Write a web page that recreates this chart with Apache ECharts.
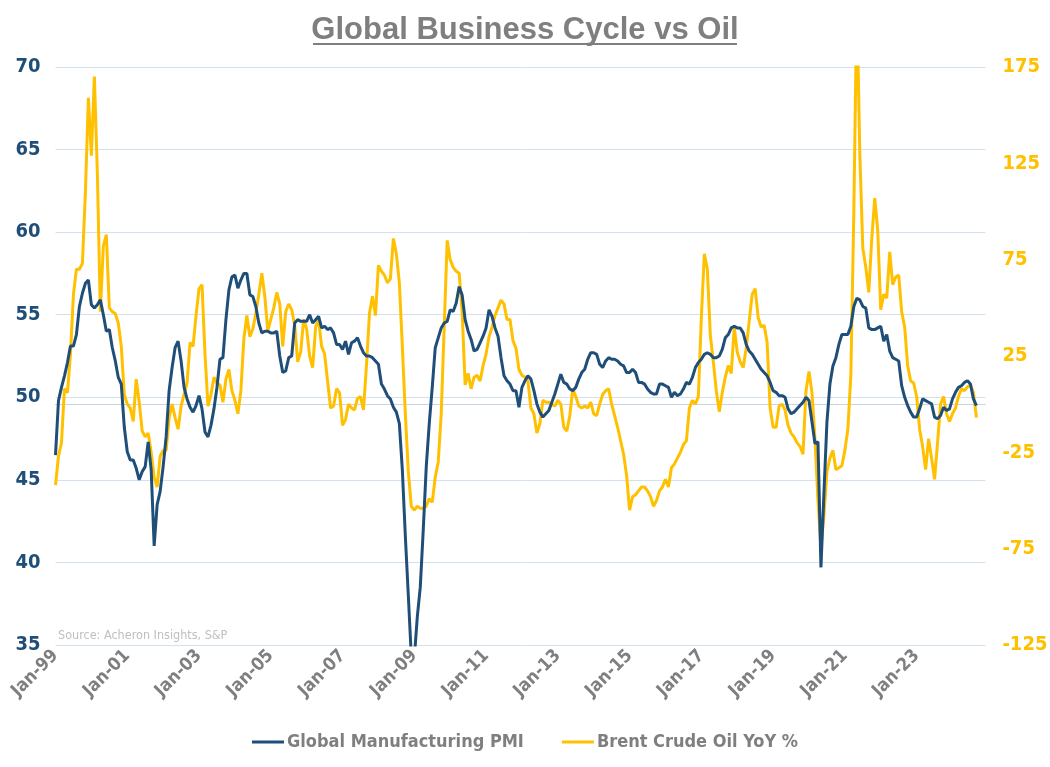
<!DOCTYPE html>
<html>
<head>
<meta charset="utf-8">
<script src="https://cdn.jsdelivr.net/npm/echarts@6/dist/echarts.min.js"></script>
<style>html,body{margin:0;padding:0;background:#fff;}#c{width:1050px;height:767px;}</style>
</head>
<body>
<div id="c"></div>
<script>
// Monthly data, Jan-99 .. Sep-24 (309 points), plus 3 empty months to Dec-24
var pmi = [
46.5,49.8,50.6,51.3,52.1,53.1,53.1,53.8,55.5,56.3,
56.9,57.1,55.6,55.4,55.6,55.9,55.0,54.0,54.1,53.0,
52.2,51.2,50.8,48.2,46.7,46.2,46.2,45.7,45.0,45.5,
45.8,47.3,45.6,41.0,43.5,44.3,45.8,47.6,50.4,51.8,
53.0,53.4,52.2,50.6,49.9,49.4,49.1,49.5,50.1,49.3,
47.9,47.6,48.3,49.3,50.6,52.3,52.4,54.7,56.5,57.3,
57.4,56.6,57.1,57.5,57.5,56.2,56.1,55.5,54.5,53.9,
54.0,54.0,53.9,53.9,54.0,52.5,51.5,51.6,52.4,52.5,
54.5,54.7,54.6,54.6,54.6,55.0,54.5,54.7,54.9,54.2,
54.3,54.1,54.2,53.9,53.2,53.2,52.9,53.4,52.6,53.3,
53.4,53.6,53.1,52.7,52.5,52.5,52.4,52.2,52.0,50.8,
50.5,50.1,49.9,49.4,49.1,48.4,45.6,41.6,38.0,34.3,
34.2,36.7,38.5,42.0,45.8,48.4,50.6,53.0,53.6,54.2,
54.5,54.6,55.3,55.2,55.7,56.7,56.2,54.7,54.0,53.5,
52.8,52.9,53.3,53.7,54.2,55.3,54.9,54.2,53.7,52.4,
51.3,51.0,50.8,50.4,50.4,49.4,50.6,51.0,51.3,51.1,
50.4,49.6,49.1,48.8,49.0,49.2,49.7,50.2,50.8,51.4,
50.9,50.8,50.5,50.4,50.6,51.1,51.5,51.7,52.3,52.7,
52.7,52.6,52.0,51.8,52.2,52.4,52.3,52.3,52.2,52.0,
51.9,51.5,51.5,51.7,51.5,50.9,50.9,50.8,50.5,50.3,
50.2,50.2,50.8,50.8,50.7,50.6,50.0,50.3,50.1,50.2,
50.5,50.9,50.8,51.2,51.8,52.1,52.3,52.6,52.7,52.6,
52.4,52.4,52.5,52.9,53.6,53.8,54.2,54.3,54.2,54.2,
53.9,53.2,52.8,52.6,52.3,52.0,51.7,51.5,51.3,50.9,
50.4,50.3,50.1,50.1,50.0,49.3,49.0,49.1,49.3,49.5,
49.7,50.0,49.8,48.5,47.2,47.3,39.7,44.2,48.5,50.8,
51.9,52.4,53.2,53.8,53.8,53.8,54.3,55.5,56.0,55.9,
55.5,55.4,54.2,54.1,54.1,54.2,54.3,53.4,53.8,52.8,
52.4,52.3,52.2,50.7,50.0,49.5,49.1,48.8,48.8,49.3,
49.9,49.8,49.7,49.6,48.8,48.7,48.9,49.4,49.2,49.3,
49.9,50.3,50.6,50.7,50.9,51.0,50.8,49.9,49.5
];
var oil = [
-42,-27,-20,8,6,26,57,70,70,73,
110,159,129,170,120,48,82,88,50,48,
47,42,30,5,0,-2,-9,13,1,-14,
-17,-15,-25,-38,-43,-27,-24,-24,-7,0,
-7,-13,-1,5,11,32,30,46,60,62,
26,-1,5,14,11,10,1,13,18,7,
2,-5,7,34,46,35,39,47,57,68,
56,38,44,50,58,52,30,48,52,49,
41,22,27,44,39,25,19,40,44,30,
26,12,-2,-1,8,6,-11,-8,0,-2,
-3,3,4,-3,20,47,56,46,72,69,
67,63,65,86,78,63,30,-5,-35,-53,
-55,-53,-54,-54,-53,-49,-51,-38,-30,-5,
40,85,75,71,69,68,48,10,16,8,
14,15,12,20,26,35,40,46,50,54,
52,44,44,33,29,18,15,14,12,-2,
-5,-15,-10,2,1,1,0,-1,2,0,
-12,-14,-6,8,4,-1,-2,-1,-2,1,
-5,-6,0,5,7,8,0,-6,-12,-19,
-26,-37,-55,-48,-47,-45,-43,-43,-45,-48,
-53,-50,-45,-43,-39,-43,-33,-31,-28,-25,
-21,-19,-2,2,0,4,45,78,70,36,
22,7,-4,6,14,20,16,40,27,22,
19,29,43,57,60,45,40,41,32,-2,
-12,-12,-1,0,-3,-11,-15,-17,-20,-22,
-26,7,17,6,-18,-50,-74,-58,-35,-28,
-24,-34,-33,-32,-24,-13,15,100,210,130,
81,71,58,86,107,90,49,57,55,79,
62,66,67,48,40,20,12,11,4,-13,
-22,-34,-18,-28,-39,-20,0,4,-5,-9,
-5,-2,4,8,7,9,10,6,-7
];
var monthNames = ['Jan','Feb','Mar','Apr','May','Jun','Jul','Aug','Sep','Oct','Nov','Dec'];
var startYear = 1999, endYear = 2024;
var categories = [];
for (var y = startYear; y <= endYear; y++) {
  for (var m = 0; m < 12; m++) {
    categories.push(monthNames[m] + '-' + String(y % 100).padStart(2, '0'));
  }
}
var leftTicks = {min: 35, max: 70, interval: 5};
var rightTicks = {min: -125, max: 175, interval: 50};
var seriesNames = ['Global Manufacturing PMI', 'Brent Crude Oil YoY %'];
var titleText = 'Global Business Cycle vs Oil';
var sourceText = 'Source: Acheron Insights, S&P';

var NARROW = "'Liberation Sans Narrow','Arial Narrow','DejaVu Sans Condensed',sans-serif";
var BLUE = '#1f4e79', GOLD = '#ffc000', GREY = '#7f7f7f';

var chart = echarts.init(document.getElementById('c'), null, {renderer: 'canvas'});
chart.setOption({
  animation: false,
  backgroundColor: '#ffffff',
  title: {
    text: titleText, left: 'center', top: 10,
    textStyle: {fontFamily: "'Liberation Sans',Arial,sans-serif", fontSize: 31, fontWeight: 'bold', color: GREY}
  },
  graphic: [
    {type: 'line', shape: {x1: 313, y1: 44, x2: 737, y2: 44}, style: {stroke: GREY, lineWidth: 2}},
    {type: 'text', left: 58, top: 629, style: {text: sourceText, fill: '#bfbfbf', font: '12.5px ' + NARROW}}
  ],
  legend: {
    bottom: 11, left: 'center', icon: 'rect', itemWidth: 32, itemHeight: 3, itemGap: 38,
    textStyle: {fontFamily: NARROW, fontSize: 18, fontWeight: 'bold', color: GREY, padding: [0, 0, 0, -2]},
    data: seriesNames
  },
  grid: {left: 55.5, right: 64.6, top: 67, bottom: 122, containLabel: false, outerBoundsMode: 'none'},
  xAxis: {
    type: 'category', data: categories, boundaryGap: false,
    axisTick: {show: false},
    axisLine: {show: true, lineStyle: {color: '#c5d6e8', width: 1}},
    axisLabel: {
      rotate: 45, margin: 8, color: GREY, fontFamily: NARROW, fontSize: 18, fontWeight: 'bold',
      interval: function (i) { return i % 24 === 0; }
    },
    splitLine: {show: false}
  },
  yAxis: [
    {
      type: 'value', position: 'left', min: leftTicks.min, max: leftTicks.max, interval: leftTicks.interval,
      axisLine: {show: false}, axisTick: {show: false},
      axisLabel: {color: BLUE, fontFamily: NARROW, fontSize: 20, fontWeight: 'bold', margin: 15},
      splitLine: {show: true, lineStyle: {color: '#d3e1ef', width: 1}}
    },
    {
      type: 'value', position: 'right', min: rightTicks.min, max: rightTicks.max, interval: rightTicks.interval,
      axisLine: {show: false}, axisTick: {show: false},
      axisLabel: {color: GOLD, fontFamily: NARROW, fontSize: 20, fontWeight: 'bold', margin: 17},
      splitLine: {show: false}
    }
  ],
  series: [
    {
      name: seriesNames[0], type: 'line', yAxisIndex: 0, data: pmi, showSymbol: false, symbol: 'none',
      lineStyle: {color: BLUE, width: 3}, itemStyle: {color: BLUE}, clip: true, z: 3
    },
    {
      name: seriesNames[1], type: 'line', yAxisIndex: 1, data: oil, showSymbol: false, symbol: 'none',
      lineStyle: {color: GOLD, width: 3}, itemStyle: {color: GOLD}, clip: true, z: 2
    }
  ]
});
</script>
</body>
</html>
